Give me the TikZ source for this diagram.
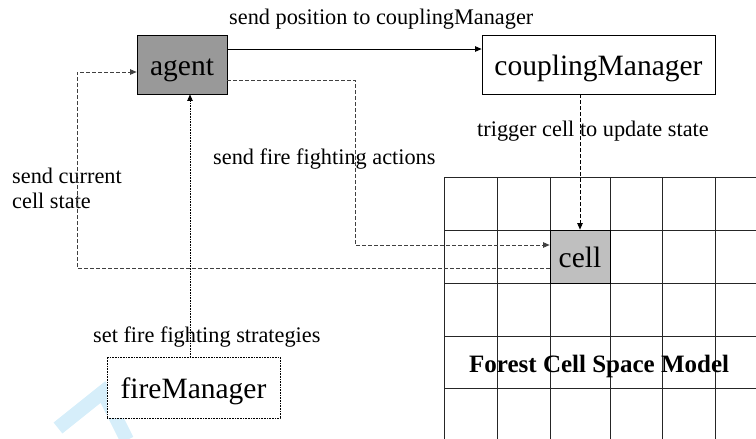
\documentclass[tikz,border=0pt]{standalone}
\usepackage{fontspec}
\setmainfont{Liberation Serif}
\usetikzlibrary{arrows.meta,calc}
\definecolor{wm}{RGB}{214,238,250}
\begin{document}
\begin{tikzpicture}[x=1pt,y=-1pt,
  box/.style={draw, line width=0.8pt, inner sep=0pt, text height=21pt, text depth=0pt,
    font=\fontsize{29.5}{32}\selectfont},
  lbl/.style={font=\fontsize{22.3}{25}\selectfont, inner sep=0pt, anchor=base west},
  arr/.style={-{Triangle[length=6.5pt,width=5.5pt]}},
  dsh/.style={dash pattern=on 3.5pt off 2.5pt, line width=0.7pt},
  dtt/.style={dash pattern=on 0.8pt off 0.8pt, line width=0.7pt},
  gridline/.style={line width=1pt, black!85}]
\useasboundingbox (0,0) rectangle (756,439);
\begin{scope}
  \clip (0,0) rectangle (756,439);
  \foreach \x in {444,497,550,610,662,715} \draw[gridline] (\x,177) -- (\x,445);
  \foreach \y in {177,230,283,336,388} \draw[gridline] (444,\y) -- (760,\y);
  \draw[wm, line width=14pt] (58,428) -- (103,392) -- (127,440);
\end{scope}
% nodes
\node[box, fill=black!40, minimum width=90pt, minimum height=59pt] (agent) at (182,64.5) {agent};
\node[box, fill=white, minimum width=233pt, minimum height=59pt] (cm) at (598.5,64.5) {couplingManager};
\node[box, fill=white, dtt, minimum width=173pt, minimum height=61pt] (fm) at (193.5,387.5) {fireManager};
\node[box, fill=black!25, minimum width=60pt, minimum height=53pt] (cell) at (580,256.5) {cell};
% labels
\node[lbl] (l1) at (229,24) {send position to couplingManager};
\node[lbl] (l2) at (477,136) {trigger cell to update state};
\node[lbl] (l3) at (213,164) {send fire fighting actions};
\node[lbl] (l4a) at (12,183) {send current};
\node[lbl] (l4b) at (12,208) {cell state};
\node[lbl] (l5) at (93,342) {set fire fighting strategies};
\node[lbl, font=\fontsize{25}{28}\selectfont\bfseries] (l6) at (469,372) {Forest Cell Space Model};
% connectors
\coordinate (c1) at (355,80);
\coordinate (c2) at (77,268);
\draw[arr, line width=0.8pt] ([yshift=15.5pt]agent.east) -- ([yshift=15.5pt]cm.west);
\draw[arr, dsh] (cell.north |- cm.south) -- (cell.north);
\draw[arr, dsh, black!75] ([yshift=-15.5pt]agent.east) -- (c1) |- ([yshift=11.5pt]cell.west);
\draw[arr, dsh, black!75] ([yshift=-11.5pt]cell.west) -- (c2) |- ([yshift=-7.5pt]agent.west);
\draw[arr, dtt] ([xshift=-3.5pt]fm.north) -- ([xshift=-3.5pt]fm.north |- agent.south);
\end{tikzpicture}
\end{document}
